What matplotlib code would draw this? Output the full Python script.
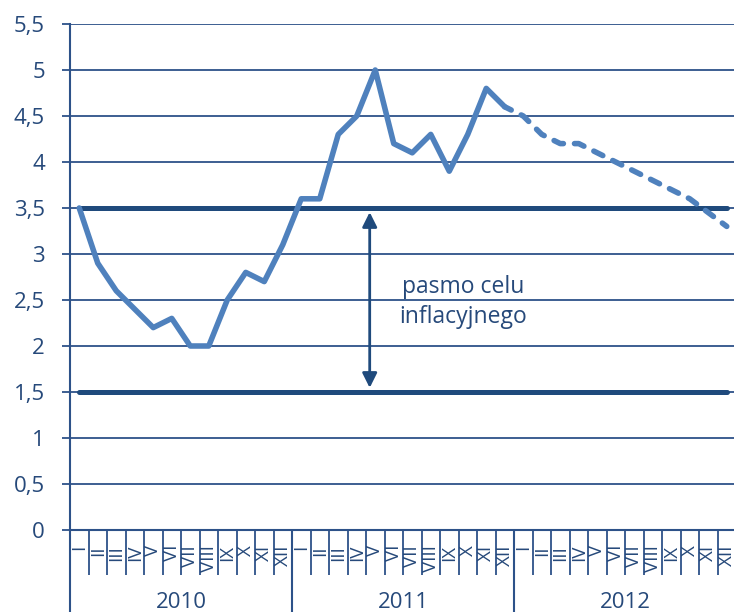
import matplotlib
matplotlib.use("Agg")
import matplotlib.pyplot as plt
import matplotlib.transforms as mtransforms
import numpy as np

# ---- data ----
roman = ['I', 'II', 'III', 'IV', 'V', 'VI', 'VII', 'VIII', 'IX', 'X', 'XI', 'XII']
years = ['2010', '2011', '2012']
month_labels = roman * 3
actual = [3.5, 2.9, 2.6, 2.4, 2.2, 2.3, 2.0, 2.0, 2.5, 2.8, 2.7, 3.1,
          3.6, 3.6, 4.3, 4.5, 5.0, 4.2, 4.1, 4.3, 3.9, 4.3, 4.8, 4.6]
forecast = [4.6, 4.5, 4.3, 4.2, 4.2, 4.1, 4.0, 3.9, 3.8, 3.7, 3.6, 3.45, 3.3]
band_upper = 3.5
band_lower = 1.5
yticks = [0, 0.5, 1, 1.5, 2, 2.5, 3, 3.5, 4, 4.5, 5, 5.5]
ytick_labels = ['0', '0,5', '1', '1,5', '2', '2,5', '3', '3,5', '4', '4,5', '5', '5,5']
annotation = 'pasmo celu\ninflacyjnego'

# ---- style ----
FONT = 'Open Sans'
TEXT_C = '#26497A'
AXIS_C = '#2D5289'
LINE_C = '#4F81BD'
BAND_C = '#1F4A7C'

W, H = 734, 612
fig = plt.figure(figsize=(W / 100, H / 100), dpi=100)
left, right, bottom, top = 70, 736, 530, 24
ax = fig.add_axes([left / W, (H - bottom) / H, (right - left) / W, (bottom - top) / H])
ax_h_px = bottom - top

n = len(month_labels)
x_all = np.arange(n)
ax.set_xlim(-0.5, n - 0.5)
ax.set_ylim(0, 5.5)

# grid
ax.set_yticks(yticks)
ax.set_yticklabels(ytick_labels, fontsize=16, family=FONT, color=TEXT_C)
ax.yaxis.grid(True, color=AXIS_C, lw=1.3)
ax.set_axisbelow(True)
ax.tick_params(axis='y', direction='out', length=6, width=1.3, color=AXIS_C, pad=12)

for s in ['top', 'right']:
    ax.spines[s].set_visible(False)
for s in ['left', 'bottom']:
    ax.spines[s].set_color(AXIS_C)
    ax.spines[s].set_linewidth(1.5)

# x ticks: year boundaries (major, long) and month boundaries (minor)
ax.set_xticks(np.arange(-0.5, n, 12))
ax.set_xticklabels([])
ax.set_xticks(np.arange(0.5, n - 1, 1), minor=True)
ax.tick_params(axis='x', which='major', direction='out', length=82 * 0.72, width=1.5, color=AXIS_C)
ax.tick_params(axis='x', which='minor', direction='out', length=45 * 0.72, width=1.3, color=AXIS_C)

trans = mtransforms.blended_transform_factory(ax.transData, ax.transAxes)
for i, lab in enumerate(month_labels):
    ax.text(i, -15 / ax_h_px, lab, transform=trans, rotation=90, ha='center', va='top',
            fontsize=13.5, family=FONT, color=TEXT_C)
for k, yr in enumerate(years):
    ax.text(12 * k + 5.5, -73 / ax_h_px, yr, transform=trans, ha='center', va='center',
            fontsize=16, family=FONT, color=TEXT_C)

# band lines
ax.plot([x_all[0], x_all[-1]], [band_upper, band_upper], color=BAND_C, lw=3.6,
        solid_capstyle='round', zorder=3)
ax.plot([x_all[0], x_all[-1]], [band_lower, band_lower], color=BAND_C, lw=3.6,
        solid_capstyle='round', zorder=3)

# series
ax.plot(x_all[:len(actual)], actual, color=LINE_C, lw=4, solid_capstyle='round',
        solid_joinstyle='round', zorder=4)
xf = x_all[len(actual) - 1:]
ax.plot(xf, forecast, color=LINE_C, lw=4, linestyle=(0.5, (1.8, 2.0)),
        dash_capstyle='round', zorder=4)

# arrow + text
ax.annotate('', xy=(15.7, band_lower), xytext=(15.7, band_upper),
            arrowprops=dict(arrowstyle='<|-|>', color=BAND_C, lw=2,
                            mutation_scale=22, shrinkA=3, shrinkB=3), zorder=5)
ax.text(20.75, 2.48, annotation, ha='center', va='center', fontsize=16.5, family=FONT,
        color=TEXT_C, linespacing=1.35, zorder=5)

fig.savefig('out.png', dpi=100)
